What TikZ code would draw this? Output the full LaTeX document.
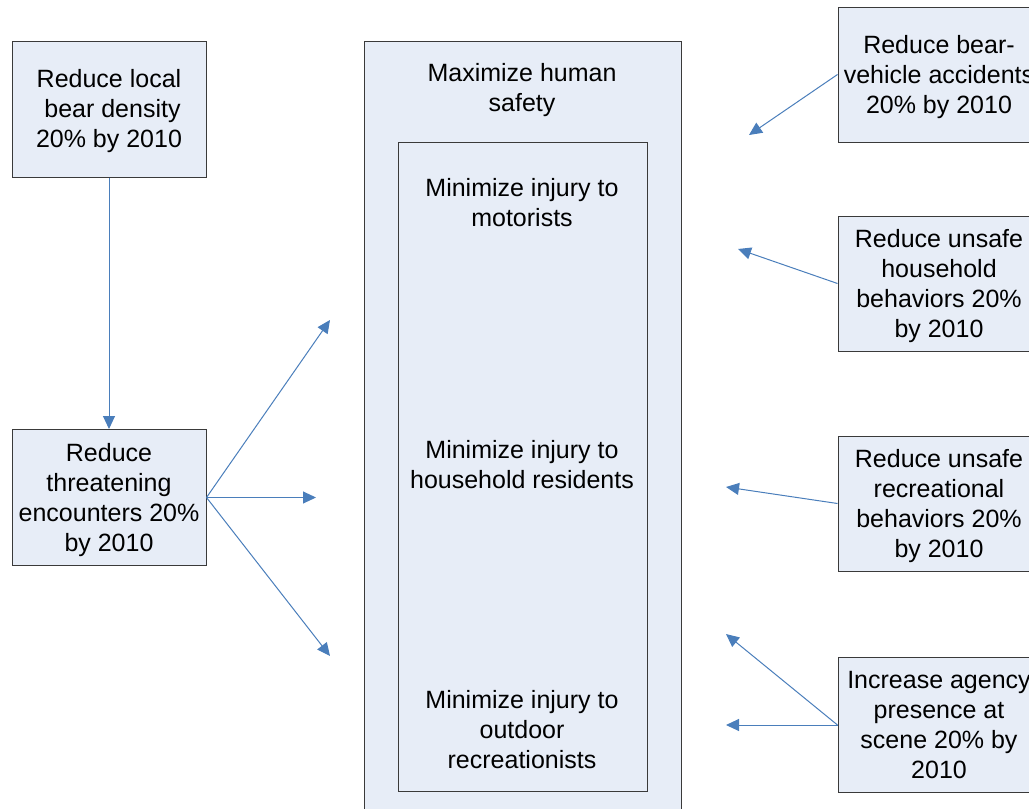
\documentclass[tikz,border=0pt]{standalone}
\usepackage{fontspec}
\setmainfont{Liberation Sans}
\usetikzlibrary{arrows.meta}
\usetikzlibrary{positioning}
\definecolor{boxfill}{HTML}{E7EDF7}
\definecolor{boxline}{HTML}{3A3A3A}
\definecolor{arrowblue}{HTML}{4A7EBB}
\newcommand{\goallines}[1]{\raisebox{-1.25pt}[\height][\depth]{\begin{tabular}{@{}c@{}}#1\end{tabular}}}

\begin{document}
\begin{tikzpicture}[x=0.5pt, y=-0.5pt,
    font=\fontsize{12.5}{15}\selectfont,
    goalbox/.style={draw=boxline, fill=boxfill, line width=0.5pt, inner sep=0pt},
    leftgoal/.style={goalbox, minimum width=97pt, minimum height=68pt},
    rightgoal/.style={goalbox, minimum width=101pt, minimum height=67.5pt},
    link/.style={draw=arrowblue, line width=0.5pt, -{Triangle[length=6.5pt, width=6pt]}}]
            \useasboundingbox (0,0) rectangle (1029,809);
            \clip (0,0) rectangle (1029,809);

            % Objective boxes
            \draw[boxline, fill=boxfill, line width=0.5pt] (364,41) rectangle (681,830);
            \draw[boxline, fill=boxfill, line width=0.5pt] (398,142) rectangle (647,791);
            \node[inner sep=0pt] (safety) at (522,88) {\goallines{Maximize human\\safety}};
            \node[inner sep=0pt] (motorists) at (522,203) {\goallines{Minimize injury to\\motorists}};
            \node[inner sep=0pt] (residents) at (522,465) {\goallines{Minimize injury to\\household residents}};
            \node[inner sep=0pt] (recreation) at (522,730) {\goallines{Minimize injury to\\outdoor\\recreationists}};

            % Left goals
            \node[leftgoal] (density) at (109,109) {\goallines{Reduce local\\\ bear density\\20\% by 2010}};
            \node[leftgoal] (encounters) at (109,497.5) {\goallines{Reduce\\threatening\\encounters 20\%\\by 2010}};

            % Right goals
            \node[rightgoal] (vehicle) at (939,74.5) {\goallines{Reduce bear-\\vehicle accidents\\20\% by 2010}};
            \node[rightgoal] (household) at (939,283.5) {\goallines{Reduce unsafe\\household\\behaviors 20\%\\by 2010}};
            \node[rightgoal] (recreational) at (939,503.5) {\goallines{Reduce unsafe\\recreational\\behaviors 20\%\\by 2010}};
            \node[rightgoal] (agency) at (939,725) {\goallines{Increase agency\\presence at\\scene 20\% by\\2010}};

            % Arrow ends
            \coordinate (toptip) at (330,320);
            \coordinate (midtip) at (316,497.5);
            \coordinate (lowtip) at (330,656);
            \coordinate (vehtip) at (749,135);
            \coordinate (houtip) at (738,249);
            \coordinate (rectip) at (726,487);
            \coordinate (agtipa) at (726,634);
            \coordinate (agtipb) at (726,725);

            % Links
            \draw[link] (density) -- (encounters);
            \draw[link] (encounters.east) -- (toptip);
            \draw[link] (encounters.east) -- (midtip);
            \draw[link] (encounters.east) -- (lowtip);
            \draw[link] (vehicle.west) -- (vehtip);
            \draw[link] (household.west) -- (houtip);
            \draw[link] (recreational.west) -- (rectip);
            \draw[link] (agency.west) -- (agtipa);
            \draw[link] (agency.west) -- (agtipb);
        \end{tikzpicture}
\end{document}
